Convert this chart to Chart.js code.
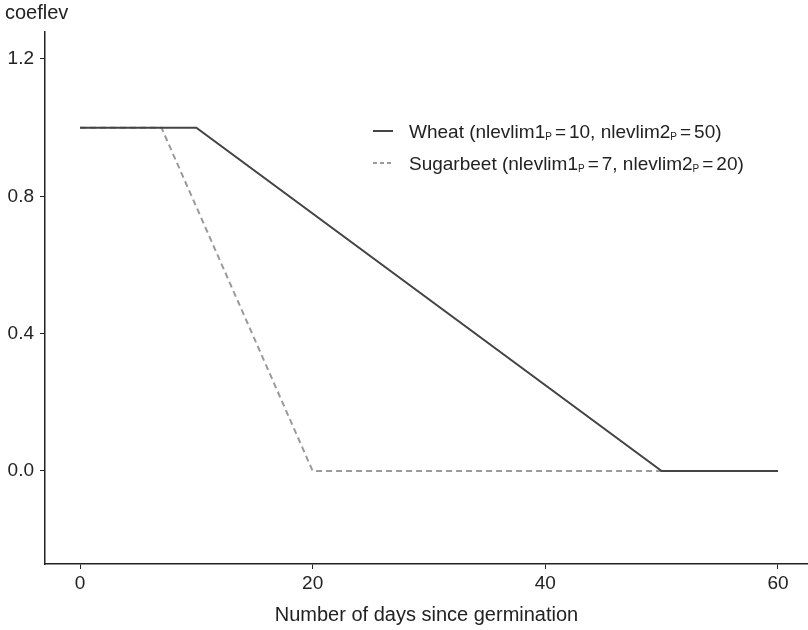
<!DOCTYPE html>
<html><head><meta charset="utf-8">
<script src="https://cdn.jsdelivr.net/npm/chart.js@4"></script>
<style>html,body{margin:0;padding:0;background:#fff}#wrap{width:808px;height:630px;position:relative}</style>
</head><body><div id="wrap"><canvas id="c" width="808" height="630"></canvas></div>
<script>
const wheatDays = [0, 10, 50, 60];
const wheatCoef = [1, 1, 0, 0];
const beetDays = [0, 7, 20, 60];
const beetCoef = [1, 1, 0, 0];
const xTicks = [0, 20, 40, 60];
const yTicks = [0.0, 0.4, 0.8, 1.2];
const legendItems = [
  {name: 'Wheat', lim1: '10', lim2: '50'},
  {name: 'Sugarbeet', lim1: '7', lim2: '20'}
];
const FONT = '"Liberation Sans", Arial, sans-serif';
const colors = ['#444444', '#9a9a9a'];
const dashes = [[], [6, 4]];

const extras = {
  id: 'extras',
  afterDraw(chart) {
    const ctx = chart.ctx;
    ctx.save();
    ctx.fillStyle = '#222';
    ctx.font = '20px ' + FONT;
    ctx.textBaseline = 'alphabetic';
    ctx.textAlign = 'left';
    ctx.fillText('coeflev', 5, 19);
    // legend
    legendItems.forEach((it, i) => {
      const y = 131 + i * 32;
      ctx.strokeStyle = colors[i];
      ctx.lineWidth = 2;
      ctx.setLineDash(i ? [4, 3] : []);
      ctx.beginPath(); ctx.moveTo(373, y); ctx.lineTo(393, y); ctx.stroke();
      ctx.setLineDash([]);
      const parts = [
        [it.name + ' (nlevlim1', 0, 0], ['P', 1, 3], ['=', 0, 3], [it.lim1 + ', nlevlim2', 0, 0], ['P', 1, 3], ['=', 0, 3], [it.lim2 + ')', 0, 0]
      ];
      let x = 409;
      const base = y + 7;
      parts.forEach(([t, sub, gap]) => {
        ctx.font = (sub ? '10px ' : '19px ') + FONT;
        ctx.fillText(t, x, base + (sub ? 2 : 0));
        x += ctx.measureText(t).width + gap;
      });
    });
    ctx.restore();
  }
};

new Chart(document.getElementById('c'), {
  type: 'line',
  data: {
    datasets: [
      {label: 'Wheat', data: wheatDays.map((d, i) => ({x: d, y: wheatCoef[i]})), borderColor: colors[0], borderWidth: 2, pointRadius: 0, fill: false, tension: 0},
      {label: 'Sugarbeet', data: beetDays.map((d, i) => ({x: d, y: beetCoef[i]})), borderColor: colors[1], borderWidth: 2, borderDash: dashes[1], pointRadius: 0, fill: false, tension: 0}
    ]
  },
  options: {
    responsive: false, animation: false,
    layout: {padding: {top: 32, right: 0, left: 0, bottom: 0}},
    plugins: {legend: {display: false}, tooltip: {enabled: false}},
    scales: {
      x: {
        type: 'linear', min: -3.01, max: 62.58,
        afterBuildTicks: s => { s.ticks = xTicks.map(v => ({value: v})); },
        afterFit: s => { s.height = 66; },
        grid: {display: true, drawOnChartArea: false, drawTicks: true, tickLength: 5, color: '#222'},
        border: {display: true, color: '#222', width: 1.5},
        ticks: {color: '#222', font: {family: FONT, size: 19}, padding: 3, callback: v => String(v), maxRotation: 0},
        title: {display: true, text: 'Number of days since germination', color: '#222', font: {family: FONT, size: 20}, padding: {top: 4, bottom: 3}}
      },
      y: {
        type: 'linear', min: -0.2709, max: 1.2786,
        afterBuildTicks: s => { s.ticks = yTicks.map(v => ({value: v})); },
        afterFit: s => { s.width = 45; },
        grid: {display: true, drawOnChartArea: false, drawTicks: true, tickLength: 5, color: '#222'},
        border: {display: true, color: '#222', width: 1.5},
        ticks: {color: '#222', font: {family: FONT, size: 19}, padding: 6, callback: v => v.toFixed(1)}
      }
    }
  },
  plugins: [extras]
});
</script></body></html>
